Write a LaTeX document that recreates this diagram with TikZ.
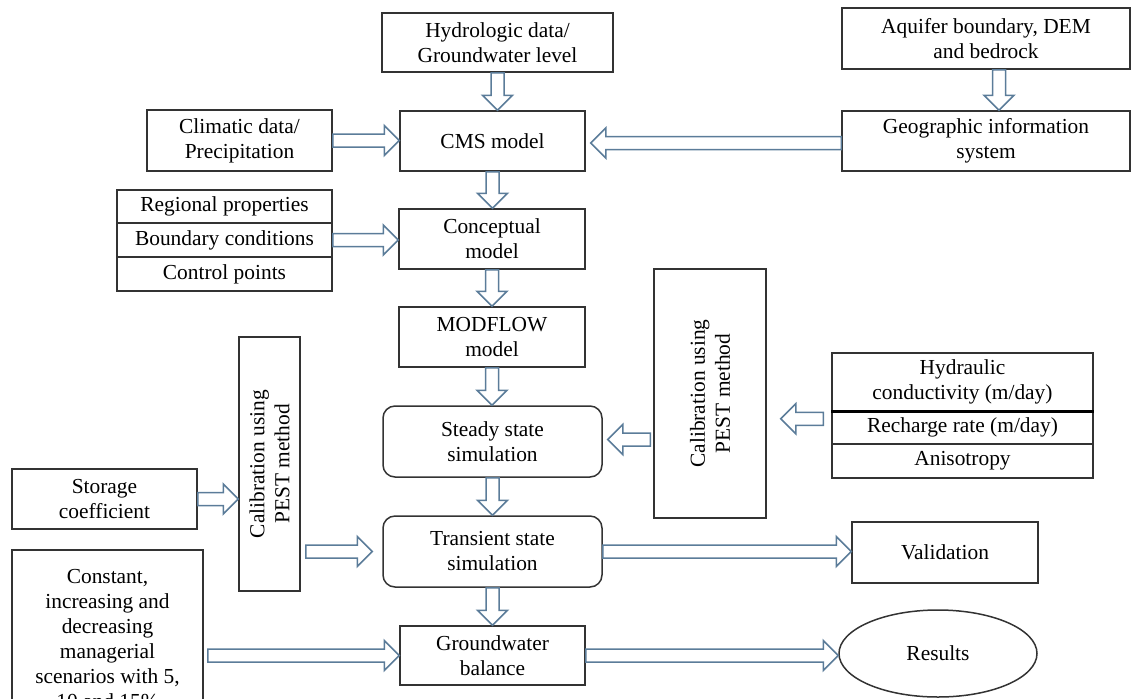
\documentclass[tikz,border=0pt]{standalone}
\usepackage{fontspec}
\setmainfont{Liberation Serif}
\usepackage{xcolor}
\usepackage{tikz}
\usetikzlibrary{shapes.geometric, calc, positioning}

\definecolor{boxline}{HTML}{333333}
\definecolor{flowline}{HTML}{5B7C99}

\newcommand{\flowtail}{0pt}
\newcommand{\flowtip}{0pt}
\tikzset{
    tailgap/.code={\renewcommand{\flowtail}{#1}},
    tipgap/.code={\renewcommand{\flowtip}{#1}}
}

\begin{document}
\begin{tikzpicture}[
    x=0.5pt, y=-0.5pt,
    font=\fontsize{10.7}{12.5}\selectfont,
    box/.style = {rectangle, draw=boxline, line width=0.75pt, fill=white, align=center, inner sep=2pt},
    stage/.style = {box, rounded corners=6pt, minimum width=109.5pt, minimum height=35.5pt},
    calib/.style = {box, rotate=90},
    cell/.style = {box, minimum width=107.5pt},
    result/.style = {ellipse, draw=boxline, line width=0.75pt, minimum width=99pt, minimum height=43.5pt},
    flow/.style = {draw=flowline, fill=white, line width=0.75pt, line join=miter,
        to path={let \p1=($(\tikztostart)!\flowtail!(\tikztotarget)$),
                     \p2=($(\tikztotarget)!\flowtip!(\tikztostart)$),
                     \p3=($(\p2)!7.5pt!(\p1)$) in
            ($(\p1)!3.25pt!90:(\p2)$) -- ($(\p3)!3.25pt!90:(\p2)$) -- ($(\p3)!7.5pt!90:(\p2)$)
            -- (\p2) -- ($(\p3)!7.5pt!-90:(\p2)$) -- ($(\p3)!3.25pt!-90:(\p2)$)
            -- ($(\p1)!3.25pt!-90:(\p2)$) -- cycle}}
]
    \useasboundingbox (0,0) rectangle (1131,698);
    \clip (0,0) rectangle (1131,698);

    % Inputs - top
    \node [box, minimum width=115.5pt, minimum height=29.5pt] (hydro) at (497.5,42.5) {Hydrologic data/\\Groundwater level};
    \node [box, minimum width=144pt, minimum height=30.5pt] (aquifer) at (986,38.5) {Aquifer boundary, DEM\\and bedrock};
    \node [box, minimum width=92.5pt, minimum height=30.5pt] (clim) at (239.5,140.5) {Climatic data/\\Precipitation};
    \node [box, minimum width=144pt, minimum height=30pt] (gis) at (986,141) {Geographic information\\system};

    % Main column
    \node [box, minimum width=92.5pt, minimum height=30pt] (cms) at (492.5,141) {CMS model};
    \node [box, minimum width=93pt, minimum height=30pt] (concept) at (492,239) {Conceptual\\model};
    \node [box, minimum width=93pt, minimum height=30pt] (modflow) at (492,337) {MODFLOW\\model};
    \node [stage] (steady) at (492.5,441.5) {Steady state\\simulation};
    \node [stage] (transient) at (492.5,551.5) {Transient state\\simulation};
    \node [box, minimum width=92.5pt, minimum height=29.5pt] (gw) at (492.5,655.5) {Groundwater\\balance};

    % Model setup stack
    \node [cell, minimum height=16.5pt] (regional) at (224.5,206.5) {Regional properties};
    \node [cell, minimum height=17pt] (boundary) at (224.5,240) {Boundary conditions};
    \node [cell, minimum height=17pt] (control) at (224.5,274) {Control points};

    % Calibration
    \node [calib, minimum width=124.5pt, minimum height=56pt] (calibR) at (710,393.5) {Calibration using\\PEST method};
    \node [calib, minimum width=127pt, minimum height=30.5pt] (calibL) at (269.5,464) {Calibration using\\PEST method};
    \node [box, minimum width=130.5pt, minimum height=29pt] (hydr1) at (962.5,382) {Hydraulic\\conductivity (m/day)};
    \node [box, minimum width=130.5pt, minimum height=16.5pt] (hydr2) at (962.5,427.5) {Recharge rate (m/day)};
    \node [box, minimum width=130.5pt, minimum height=17pt] (hydr3) at (962.5,461) {Anisotropy};
    \draw [line width=1.3pt] (hydr1.south west) -- (hydr1.south east);
    \node [box, minimum width=92.5pt, minimum height=30pt] (storage) at (104.5,499) {Storage\\coefficient};

    % Outputs
    \node [box, minimum width=93pt, minimum height=30.5pt] (valid) at (945,552.5) {Validation};
    \node [box, anchor=north, minimum width=95.5pt, inner ysep=9.7pt] (constant) at (107.5,549) {Constant,\\increasing and\\decreasing\\managerial\\scenarios with 5,\\10 and 15\%};
    \node [result] (results) at (938,653.5) {Results};

    % Arrows - inputs
    \draw [flow] (hydro.south) to (hydro.south |- cms.north);
    \coordinate (aqout) at ([xshift=6.5pt]aquifer.south);
    \draw [flow] (aqout) to (aqout |- gis.north);
    \draw [flow] (clim.east) to (clim.east -| cms.west);
    \coordinate (gisout) at ([yshift=-1pt]gis.west);
    \draw [flow, tipgap=2.5pt] (gisout) to (gisout -| cms.east);
    \draw [flow] (boundary.east) to (boundary.east -| concept.west);

    % Arrows - main column
    \draw [flow] (cms.south) to (cms.south |- concept.north);
    \draw [flow] (concept.south) to (modflow.north);
    \draw [flow] (modflow.south) to (modflow.south |- steady.north);
    \draw [flow] (steady.south) to (transient.north);
    \draw [flow] (transient.south) to (gw.north);

    % Arrows - calibration
    \coordinate (hydin) at ([yshift=-3.5pt]hydr1.south west);
    \draw [flow, tailgap=4pt, tipgap=7pt] (hydin) to (hydin -| calibR.south);
    \coordinate (calout) at ([yshift=1pt]calibR.north |- steady.east);
    \draw [flow, tailgap=1.5pt, tipgap=2.5pt] (calout) to (calout -| steady.east);
    \draw [flow] (storage.east) to (storage.east -| calibL.north);
    \coordinate (calLout) at (calibL.south |- transient.west);
    \draw [flow, tailgap=2.5pt, tipgap=5pt] (calLout) to (transient.west);

    % Arrows - outputs
    \draw [flow] (transient.east) to (transient.east -| valid.west);
    \coordinate (conout) at (constant.east |- gw.west);
    \draw [flow, tailgap=2pt] (conout) to (gw.west);
    \draw [flow] (gw.east) to (gw.east -| results.west);
\end{tikzpicture}
\end{document}
